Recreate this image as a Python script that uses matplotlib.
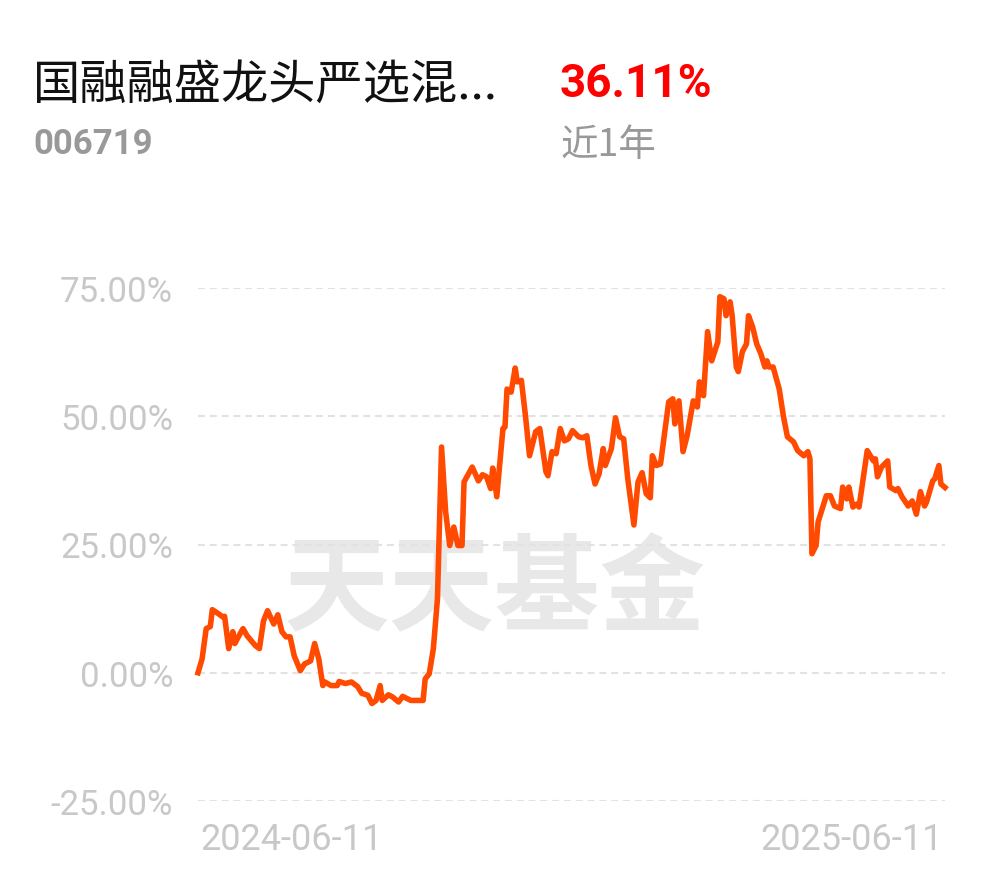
import matplotlib.pyplot as plt
from matplotlib.ticker import FuncFormatter

plt.rcParams['font.family'] = ['Roboto', 'Noto Sans CJK SC', 'DejaVu Sans']
plt.rcParams['lines.scale_dashes'] = False

fund_name = "国融融盛龙头严选混..."
fund_code = "006719"
period_return = "36.11%"
period_label = "近1年"
start_label = "2024-06-11"
end_label = "2025-06-11"

# days since 2024-06-11, cumulative return in %
days = [0, 2, 4, 6, 7, 10, 12, 13, 15, 17, 18, 20, 22, 24, 28, 30, 32, 34, 37, 39,
        41, 43, 45, 47, 50, 52, 55, 57, 59, 61, 62, 65, 68, 69, 72, 75, 78, 80, 83, 85,
        87, 89, 90, 93, 95, 98, 100, 104, 107, 110, 111, 113, 115, 117, 119, 121, 123, 125, 127, 129,
        130, 134, 137, 139, 141, 143, 144, 146, 149, 150, 151, 153, 155, 156, 158, 160, 162, 165, 167, 170,
        171, 173, 175, 177, 179, 181, 183, 186, 188, 190, 192, 194, 196, 198, 199, 202, 204, 206, 208, 210,
        213, 215, 217, 219, 221, 222, 224, 226, 230, 232, 233, 235, 237, 239, 242, 244, 245, 247, 249, 251,
        254, 255, 257, 258, 260, 261, 263, 264, 266, 268, 269, 271, 273, 275, 277, 278, 279, 281, 284, 286,
        288, 291, 293, 296, 298, 299, 300, 302, 303, 307, 309, 311, 314, 315, 317, 318, 320, 322, 323, 327,
        330, 331, 332, 334, 337, 338, 341, 342, 344, 347, 349, 351, 353, 355, 356, 359, 360, 362, 363, 365]
returns = [0.0, 2.7, 8.6, 9.0, 12.3, 11.5, 10.9, 11.0, 4.7, 8.0, 5.7, 7.2, 8.6, 7.2, 5.3, 4.7, 10.1, 12.1, 9.5, 11.3,
           8.0, 7.0, 7.0, 3.3, 0.4, 1.7, 2.3, 5.7, 2.7, -2.5, -1.8, -2.5, -2.5, -1.7, -2.1, -1.8, -2.7, -4.0, -4.4, -6.0,
           -5.4, -2.5, -5.4, -4.3, -4.7, -5.7, -4.6, -5.4, -5.4, -5.4, -1.2, -0.2, 4.7, 14.4, 44.0, 31.4, 24.8, 28.4, 24.8, 24.8,
           37.2, 40.1, 37.4, 38.6, 38.2, 35.9, 39.9, 34.3, 47.6, 47.9, 55.3, 54.7, 59.4, 56.7, 57.0, 50.1, 42.3, 47.0, 47.6, 39.2,
           38.4, 43.1, 42.7, 47.6, 45.2, 45.6, 47.2, 46.0, 45.8, 46.2, 40.4, 36.8, 38.8, 43.7, 40.4, 43.7, 49.7, 46.0, 45.6, 37.8,
           28.8, 37.2, 39.0, 34.9, 34.1, 42.3, 40.4, 40.7, 52.8, 53.4, 48.5, 53.0, 43.1, 46.2, 53.0, 51.8, 56.7, 54.0, 66.5, 60.8,
           64.5, 73.3, 72.9, 69.6, 72.3, 69.6, 59.6, 58.7, 62.6, 64.1, 69.6, 67.4, 64.1, 62.2, 59.6, 60.8, 59.6, 59.6, 55.3, 50.1,
           46.0, 45.0, 43.3, 42.3, 43.1, 41.7, 23.2, 24.8, 29.4, 34.5, 34.5, 32.5, 32.0, 36.2, 33.9, 36.2, 32.3, 32.9, 32.3, 43.3,
           41.3, 41.7, 38.2, 40.1, 41.3, 36.2, 35.5, 35.9, 34.3, 32.5, 33.5, 30.9, 35.3, 32.5, 33.3, 37.4, 37.8, 40.4, 36.8, 36.11]
y_ticks = [-25, 0, 25, 50, 75]

fig = plt.figure(figsize=(9.9, 8.78), dpi=100)
fig.patch.set_facecolor("white")
ax = fig.add_axes([198 / 990, 76 / 878, 747 / 990, 513 / 878])

# watermark
ax.text(0.397, 0.41, "天天基金", transform=ax.transAxes, ha="center", va="center",
        fontsize=76, fontweight="bold", color="#e8e8e8", family=["Noto Sans CJK SC"], zorder=0)

for t in y_ticks:
    ax.axhline(t, color="#e2e2e2", lw=1.5, dashes=(5, 3.5), zorder=1)

ax.plot(days, returns, color="#ff4a00", lw=4.0, solid_joinstyle="round", zorder=3, clip_on=False)

ax.set_xlim(0, 365)
ax.set_ylim(-25, 75)
ax.set_yticks(y_ticks)
ax.yaxis.set_major_formatter(FuncFormatter(lambda v, p: f"{v:.2f}%"))
ax.tick_params(axis="y", length=0, pad=18, labelsize=25, labelcolor="#c8c8c8")
ax.set_xticks([])
for s in ax.spines.values():
    s.set_visible(False)

fig.text(200 / 990, 1 - 840 / 878, start_label, ha="left", va="center", fontsize=26,
         color="#c8c8c8")
fig.text(943 / 990, 1 - 840 / 878, end_label, ha="right", va="center", fontsize=26,
         color="#c8c8c8")

fig.text(33 / 990, 1 - 86 / 878, fund_name, ha="left", va="center", fontsize=34,
         color="#111111", family=["Noto Sans CJK SC", "DejaVu Sans"])
fig.text(33 / 990, 1 - 144 / 878, fund_code, ha="left", va="center", fontsize=25,
         fontweight="bold", color="#999999")
fig.text(560 / 990, 1 - 84 / 878, period_return, ha="left", va="center", fontsize=33,
         fontweight="bold", color="#ff0000")
fig.text(560 / 990, 1 - 146 / 878, period_label, ha="left", va="center", fontsize=27,
         color="#999999", family=["Noto Sans CJK SC", "DejaVu Sans"])

fig.savefig("out.png", dpi=100, facecolor="white")
